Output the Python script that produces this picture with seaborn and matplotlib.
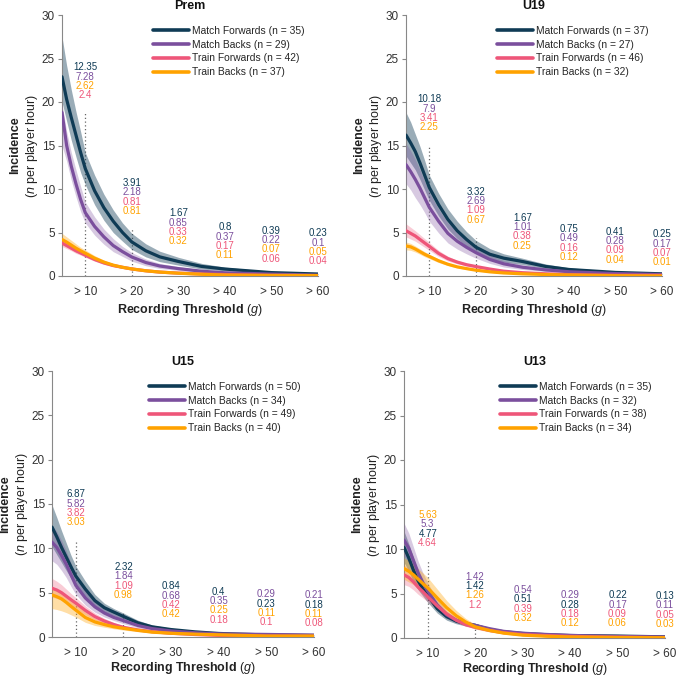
import matplotlib
matplotlib.use("Agg")
import matplotlib.pyplot as plt
import matplotlib.transforms as mtransforms
import pandas as pd
import seaborn as sns

# ---------------- data ----------------
thresholds = [5, 6, 7, 8, 9, 10, 12, 14, 16, 18, 20, 23, 26, 30, 35, 40, 50, 60]
tick_values = [10, 20, 30, 40, 50, 60]
tick_labels = ["> 10", "> 20", "> 30", "> 40", "> 50", "> 60"]
series_names = ["Match Forwards", "Match Backs", "Train Forwards", "Train Backs"]
panels = ["Prem", "U19", "U15", "U13"]

prem_n = [35, 29, 42, 37]
u19_n = [37, 27, 46, 32]
u15_n = [50, 34, 49, 40]
u13_n = [35, 32, 38, 34]

# Prem
prem_mf = [22.9, 20.3, 18.2, 16.2, 14.2, 12.35, 9.8, 7.85, 6.3, 5.0, 3.91, 2.9, 2.2, 1.67, 1.1, 0.8, 0.39, 0.23]
prem_mf_hi = [27.5, 24.2, 21.4, 18.9, 16.6, 14.2, 11.6, 9.4, 7.6, 6.1, 4.9, 3.7, 2.85, 2.15, 1.45, 1.02, 0.5, 0.3]
prem_mf_lo = [20.0, 17.8, 15.6, 13.7, 11.9, 10.5, 8.2, 6.4, 5.0, 4.0, 3.05, 2.2, 1.65, 1.25, 0.8, 0.6, 0.29, 0.17]
prem_mb = [18.8, 15.0, 12.6, 10.6, 8.8, 7.28, 5.7, 4.5, 3.5, 2.8, 2.18, 1.55, 1.15, 0.85, 0.55, 0.37, 0.22, 0.1]
prem_mb_hi = [19.8, 16.6, 14.2, 12.2, 10.3, 8.5, 6.8, 5.4, 4.3, 3.4, 2.7, 1.95, 1.45, 1.07, 0.7, 0.48, 0.29, 0.14]
prem_mb_lo = [15.0, 13.2, 11.0, 9.1, 7.4, 6.1, 4.7, 3.65, 2.8, 2.25, 1.7, 1.18, 0.87, 0.65, 0.41, 0.27, 0.16, 0.07]
prem_tf = [3.8, 3.5, 3.2, 2.9, 2.65, 2.4, 1.9, 1.5, 1.2, 1.0, 0.81, 0.6, 0.45, 0.33, 0.23, 0.17, 0.06, 0.04]
prem_tf_hi = [4.2, 3.85, 3.5, 3.2, 2.9, 2.65, 2.1, 1.65, 1.33, 1.1, 0.9, 0.67, 0.5, 0.37, 0.26, 0.19, 0.08, 0.05]
prem_tf_lo = [3.4, 3.15, 2.9, 2.6, 2.4, 2.15, 1.7, 1.35, 1.07, 0.9, 0.72, 0.53, 0.4, 0.29, 0.2, 0.15, 0.04, 0.03]
prem_tb = [4.2, 3.9, 3.55, 3.2, 2.9, 2.62, 2.05, 1.6, 1.25, 1.0, 0.81, 0.6, 0.45, 0.32, 0.2, 0.11, 0.07, 0.05]
prem_tb_hi = [4.9, 4.5, 4.1, 3.7, 3.3, 3.0, 2.35, 1.82, 1.42, 1.14, 0.92, 0.68, 0.51, 0.37, 0.23, 0.13, 0.09, 0.06]
prem_tb_lo = [3.6, 3.35, 3.05, 2.75, 2.5, 2.25, 1.77, 1.4, 1.1, 0.88, 0.71, 0.52, 0.39, 0.28, 0.17, 0.09, 0.05, 0.04]

# U19
u19_mf = [16.2, 15.3, 14.3, 13.0, 11.6, 10.18, 8.2, 6.5, 5.2, 4.2, 3.32, 2.5, 2.05, 1.67, 1.1, 0.75, 0.41, 0.25]
u19_mf_hi = [18.8, 17.7, 16.3, 14.9, 13.3, 11.6, 9.5, 7.7, 6.3, 5.1, 4.1, 3.15, 2.55, 2.05, 1.38, 0.95, 0.53, 0.33]
u19_mf_lo = [13.8, 13.0, 12.2, 11.1, 9.9, 8.7, 6.9, 5.4, 4.3, 3.4, 2.65, 2.0, 1.6, 1.32, 0.86, 0.57, 0.3, 0.18]
u19_mb = [12.8, 12.0, 11.1, 10.1, 9.0, 7.9, 6.3, 4.9, 4.0, 3.3, 2.69, 1.9, 1.4, 1.01, 0.7, 0.49, 0.28, 0.17]
u19_mb_hi = [15.2, 14.4, 13.4, 12.2, 10.9, 9.6, 7.7, 6.1, 5.0, 4.1, 3.35, 2.4, 1.78, 1.3, 0.9, 0.62, 0.36, 0.23]
u19_mb_lo = [10.6, 9.9, 9.0, 8.2, 7.3, 6.3, 4.95, 3.8, 3.1, 2.55, 2.05, 1.45, 1.03, 0.75, 0.52, 0.36, 0.2, 0.11]
u19_tf = [5.2, 4.9, 4.6, 4.2, 3.8, 3.41, 2.6, 2.0, 1.6, 1.3, 1.09, 0.8, 0.55, 0.38, 0.25, 0.16, 0.09, 0.07]
u19_tf_hi = [6.0, 5.6, 5.2, 4.75, 4.3, 3.85, 2.95, 2.27, 1.8, 1.46, 1.22, 0.9, 0.63, 0.44, 0.29, 0.19, 0.11, 0.09]
u19_tf_lo = [4.5, 4.25, 4.0, 3.65, 3.3, 2.95, 2.25, 1.73, 1.4, 1.14, 0.96, 0.7, 0.48, 0.33, 0.21, 0.13, 0.07, 0.05]
u19_tb = [3.45, 3.35, 3.1, 2.8, 2.5, 2.25, 1.75, 1.35, 1.05, 0.85, 0.67, 0.48, 0.35, 0.25, 0.17, 0.12, 0.04, 0.01]
u19_tb_hi = [3.9, 3.75, 3.45, 3.12, 2.8, 2.5, 1.95, 1.5, 1.17, 0.95, 0.75, 0.54, 0.4, 0.29, 0.2, 0.14, 0.05, 0.02]
u19_tb_lo = [3.0, 2.95, 2.75, 2.5, 2.22, 2.0, 1.55, 1.2, 0.93, 0.75, 0.59, 0.42, 0.3, 0.21, 0.14, 0.1, 0.03, 0.0]

# U15
u15_mf = [12.4, 11.3, 10.1, 9.0, 7.9, 6.87, 5.4, 4.1, 3.3, 2.8, 2.32, 1.6, 1.15, 0.84, 0.58, 0.4, 0.23, 0.18]
u15_mf_hi = [14.9, 13.5, 12.0, 10.6, 9.2, 8.0, 6.3, 4.8, 3.8, 3.2, 2.7, 1.9, 1.35, 1.0, 0.68, 0.47, 0.28, 0.22]
u15_mf_lo = [10.2, 9.3, 8.4, 7.5, 6.6, 5.8, 4.5, 3.45, 2.8, 2.4, 1.95, 1.35, 0.95, 0.7, 0.48, 0.33, 0.19, 0.14]
u15_mb = [10.7, 10.1, 9.2, 8.2, 7.0, 5.82, 4.4, 3.4, 2.7, 2.2, 1.84, 1.3, 0.95, 0.68, 0.48, 0.35, 0.29, 0.21]
u15_mb_hi = [12.6, 11.9, 10.9, 9.7, 8.3, 6.9, 5.2, 4.0, 3.2, 2.6, 2.2, 1.55, 1.13, 0.82, 0.58, 0.43, 0.35, 0.26]
u15_mb_lo = [8.6, 8.2, 7.5, 6.7, 5.7, 4.8, 3.6, 2.8, 2.25, 1.85, 1.5, 1.05, 0.77, 0.55, 0.38, 0.28, 0.23, 0.16]
u15_tf = [5.5, 5.3, 5.0, 4.6, 4.2, 3.82, 3.0, 2.3, 1.8, 1.4, 1.09, 0.8, 0.6, 0.42, 0.28, 0.18, 0.1, 0.08]
u15_tf_hi = [6.6, 6.3, 5.9, 5.4, 4.9, 4.45, 3.5, 2.7, 2.1, 1.63, 1.27, 0.93, 0.7, 0.49, 0.33, 0.21, 0.12, 0.1]
u15_tf_lo = [4.5, 4.35, 4.15, 3.85, 3.5, 3.2, 2.5, 1.92, 1.5, 1.17, 0.91, 0.67, 0.5, 0.35, 0.23, 0.15, 0.08, 0.06]
u15_tb = [4.75, 4.55, 4.3, 3.9, 3.45, 3.03, 2.2, 1.7, 1.4, 1.15, 0.98, 0.75, 0.55, 0.42, 0.32, 0.25, 0.11, 0.11]
u15_tb_hi = [5.6, 5.4, 5.1, 4.65, 4.15, 3.75, 2.8, 2.1, 1.7, 1.4, 1.18, 0.9, 0.66, 0.5, 0.38, 0.3, 0.14, 0.14]
u15_tb_lo = [3.2, 3.1, 2.95, 2.75, 2.5, 2.25, 1.65, 1.3, 1.1, 0.92, 0.78, 0.6, 0.44, 0.34, 0.26, 0.2, 0.08, 0.08]

# U13
u13_mf = [10.2, 9.0, 7.6, 6.4, 5.5, 4.77, 3.3, 2.4, 1.9, 1.6, 1.418, 0.95, 0.7, 0.51, 0.37, 0.28, 0.22, 0.13]
u13_mf_hi = [12.0, 10.6, 9.0, 7.5, 6.4, 5.5, 3.9, 2.8, 2.2, 1.85, 1.65, 1.1, 0.82, 0.6, 0.44, 0.34, 0.27, 0.17]
u13_mf_lo = [8.5, 7.5, 6.3, 5.4, 4.7, 4.0, 2.8, 2.0, 1.6, 1.35, 1.2, 0.8, 0.58, 0.42, 0.3, 0.22, 0.17, 0.09]
u13_mb = [11.0, 10.1, 8.7, 7.3, 6.2, 5.3, 3.7, 2.6, 2.0, 1.65, 1.424, 1.05, 0.75, 0.54, 0.4, 0.29, 0.17, 0.11]
u13_mb_hi = [12.9, 11.8, 10.2, 8.6, 7.3, 6.2, 4.3, 3.0, 2.3, 1.9, 1.65, 1.22, 0.88, 0.64, 0.47, 0.35, 0.21, 0.14]
u13_mb_lo = [9.2, 8.5, 7.3, 6.1, 5.2, 4.45, 3.1, 2.2, 1.7, 1.4, 1.2, 0.88, 0.62, 0.45, 0.33, 0.23, 0.13, 0.08]
u13_tf = [7.1, 6.8, 6.3, 5.7, 5.2, 4.64, 3.6, 2.7, 2.0, 1.5, 1.2, 0.85, 0.6, 0.39, 0.27, 0.18, 0.09, 0.05]
u13_tf_hi = [8.2, 7.8, 7.2, 6.5, 5.9, 5.25, 4.05, 3.05, 2.25, 1.7, 1.35, 0.96, 0.68, 0.45, 0.31, 0.21, 0.11, 0.07]
u13_tf_lo = [6.0, 5.8, 5.4, 4.9, 4.5, 4.05, 3.15, 2.35, 1.75, 1.3, 1.05, 0.74, 0.52, 0.33, 0.23, 0.15, 0.07, 0.03]
u13_tb = [7.8, 7.5, 7.1, 6.6, 6.1, 5.63, 4.5, 3.4, 2.5, 1.8, 1.26, 0.85, 0.55, 0.32, 0.2, 0.12, 0.06, 0.03]
u13_tb_hi = [9.0, 8.7, 8.3, 7.8, 7.3, 6.8, 5.5, 4.2, 3.1, 2.2, 1.55, 1.03, 0.67, 0.4, 0.25, 0.15, 0.08, 0.05]
u13_tb_lo = [6.6, 6.3, 6.0, 5.5, 5.0, 4.5, 3.5, 2.6, 1.9, 1.4, 1.0, 0.68, 0.44, 0.25, 0.15, 0.09, 0.04, 0.02]

panel_data = {
    "Prem": dict(n=prem_n, mean=[prem_mf, prem_mb, prem_tf, prem_tb],
                 lo=[prem_mf_lo, prem_mb_lo, prem_tf_lo, prem_tb_lo],
                 hi=[prem_mf_hi, prem_mb_hi, prem_tf_hi, prem_tb_hi]),
    "U19": dict(n=u19_n, mean=[u19_mf, u19_mb, u19_tf, u19_tb],
                lo=[u19_mf_lo, u19_mb_lo, u19_tf_lo, u19_tb_lo],
                hi=[u19_mf_hi, u19_mb_hi, u19_tf_hi, u19_tb_hi]),
    "U15": dict(n=u15_n, mean=[u15_mf, u15_mb, u15_tf, u15_tb],
                lo=[u15_mf_lo, u15_mb_lo, u15_tf_lo, u15_tb_lo],
                hi=[u15_mf_hi, u15_mb_hi, u15_tf_hi, u15_tb_hi]),
    "U13": dict(n=u13_n, mean=[u13_mf, u13_mb, u13_tf, u13_tb],
                lo=[u13_mf_lo, u13_mb_lo, u13_tf_lo, u13_tb_lo],
                hi=[u13_mf_hi, u13_mb_hi, u13_tf_hi, u13_tb_hi]),
}

# ---------------- layout / style ----------------
colors = ["#0f3b55", "#7b4f9d", "#ee5679", "#ffa200"]
band_alpha = [0.42, 0.30, 0.30, 0.35]

W, H = 676, 677
axes_px = {  # left, top, right, bottom in pixels
    "Prem": (62, 15, 318, 276),
    "U19": (406, 15, 662, 276),
    "U15": (52, 371, 314, 637),
    "U13": (404, 371, 665, 638),
}
annot_top = {
    "Prem": [24.0, 10.7, 7.2, 5.6, 5.2, 4.9],
    "U19": [20.3, 9.7, 6.7, 5.4, 5.1, 4.8],
    "U15": [16.1, 7.9, 5.7, 5.1, 4.8, 4.7],
    "U13": [13.8, 6.9, 5.4, 4.8, 4.8, 4.7],
}
guide_top = {
    "Prem": [18.9, 5.5],
    "U19": [15.1, 4.4],
    "U15": [10.7, 2.7],
    "U13": [8.8, 1.1],
}
xlabel_pad = {"Prem": 3, "U19": 3, "U15": 1, "U13": 1}

sns.set_style("ticks")
plt.rcParams["font.family"] = ["Liberation Sans", "DejaVu Sans"]
plt.rcParams["mathtext.fontset"] = "custom"
plt.rcParams["mathtext.rm"] = "Liberation Sans"
plt.rcParams["mathtext.it"] = "Liberation Sans:italic"
plt.rcParams["mathtext.bf"] = "Liberation Sans:bold"

fig = plt.figure(figsize=(W / 100, H / 100), dpi=100)

for panel in panels:
    l, t, r, b = axes_px[panel]
    ax = fig.add_axes([l / W, 1 - b / H, (r - l) / W, (b - t) / H])
    d = panel_data[panel]
    labels = [f"{s} (n = {n})" for s, n in zip(series_names, d["n"])]

    rows = []
    for lab, m in zip(labels, d["mean"]):
        for x, y in zip(thresholds, m):
            rows.append({"threshold": x, "incidence": y, "group": lab})
    df = pd.DataFrame(rows)

    for xv, top in zip([10, 20], guide_top[panel]):
        ax.plot([xv, xv], [0, top], linestyle=(0, (1, 2)), color="#666666", lw=0.9, zorder=1)

    for i, lab in enumerate(labels):
        ax.fill_between(thresholds, d["lo"][i], d["hi"][i], color=colors[i],
                        alpha=band_alpha[i], lw=0, zorder=2 + i)

    sns.lineplot(data=df, x="threshold", y="incidence", hue="group", hue_order=labels,
                 palette=colors, linewidth=2.3, ax=ax, legend=True, zorder=10)
    for line in ax.get_lines()[2:]:
        line.set_zorder(10)

    for k, tv in enumerate(tick_values):
        idx = thresholds.index(tv)
        vals = [(d["mean"][i][idx], i) for i in range(4)]
        vals_sorted = sorted(vals, key=lambda p: -p[0])
        for j, (v, i) in enumerate(vals_sorted):
            ax.annotate(f"{round(v, 2):g}", xy=(tv, annot_top[panel][k]),
                        xytext=(0, -j * 6.7), textcoords="offset points",
                        ha="center", va="center", fontsize=7, color=colors[i], zorder=20)

    ax.set_xlim(5, 60)
    ax.set_ylim(0, 30)
    ax.set_yticks([0, 5, 10, 15, 20, 25, 30])
    ax.set_xticks(tick_values)
    ax.set_xticklabels(tick_labels)
    ax.tick_params(axis="y", length=3, width=0.8, color="#888888", pad=2,
                   labelsize=8.5, labelcolor="#333333")
    ax.tick_params(axis="x", length=0, pad=7, labelsize=8.5, labelcolor="#333333")
    sns.despine(ax=ax)
    for s in ["left", "bottom"]:
        ax.spines[s].set_color("#888888")
        ax.spines[s].set_linewidth(0.8)

    ax.set_xlabel(r"Recording Threshold $(\mathit{g})$", fontsize=9, fontweight="bold",
                  color="#222222", labelpad=xlabel_pad[panel])
    ax.set_ylabel("")
    ax.set_title(panel, fontsize=9, fontweight="bold", color="#111111", pad=4)

    tr1 = mtransforms.offset_copy(ax.transAxes, fig=fig, x=-47, y=0, units="dots")
    tr2 = mtransforms.offset_copy(ax.transAxes, fig=fig, x=-30, y=0, units="dots")
    ax.text(0, 0.5, "Incidence", transform=tr1, rotation=90, ha="center", va="center",
            fontsize=9, fontweight="bold", color="#222222")
    ax.text(0, 0.5, r"($\mathit{n}$ per player hour)", transform=tr2, rotation=90,
            ha="center", va="center", fontsize=9, color="#222222")

    leg_x = (r - 13 - l) / (r - l)
    leg_y = (b - (t + 11)) / (b - t)
    ax.legend(loc="upper right", bbox_to_anchor=(leg_x, leg_y), frameon=False,
              fontsize=7.4, handlelength=3.5, handletextpad=0.3, labelspacing=0.36,
              borderaxespad=0, borderpad=0)
    for lh in ax.get_legend().get_lines():
        lh.set_linewidth(2.6)

fig.savefig("out.png", dpi=100)
